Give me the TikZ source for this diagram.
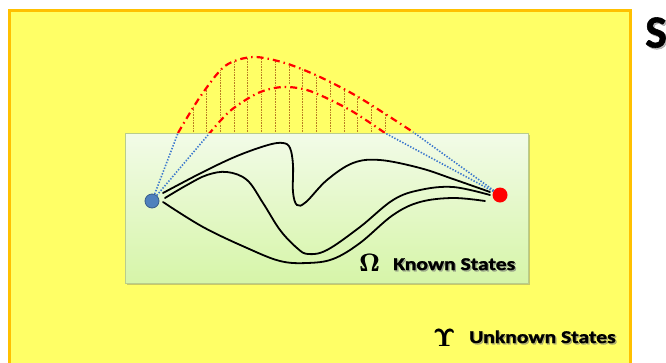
\documentclass[tikz,border=0pt]{standalone}
\usepackage[no-math]{fontspec}
\setmainfont{Carlito}
\newfontfamily\heavyfont{Carlito Bold}[FakeBold=1.2]
\usetikzlibrary{shadows}
\definecolor{yfill}{RGB}{255,255,102}
\definecolor{yborder}{RGB}{255,192,0}
\definecolor{gtop}{RGB}{242,251,232}
\definecolor{gbot}{RGB}{214,245,168}
\definecolor{gborder}{RGB}{185,205,140}
\definecolor{bdot}{RGB}{79,129,189}
\definecolor{bdotb}{RGB}{56,93,138}
\definecolor{bline}{RGB}{60,120,205}
\definecolor{hatch}{RGB}{185,125,35}
\definecolor{rdot}{RGB}{255,0,0}
\tikzset{
  dotnode/.style={circle,inner sep=0pt,minimum size=14pt},
  pathline/.style={line width=1.8pt,black,line cap=round},
  blink/.style={bline,line width=1.6pt,dash pattern=on 1.4pt off 1.6pt},
  redcurve/.style={rdot,line width=2.2pt,dash pattern=on 7pt off 4pt on 1.5pt off 4pt},
  hatchline/.style={hatch,line width=0.8pt,dash pattern=on 1pt off 0.6pt},
  label/.style={font=\heavyfont\fontsize{18}{18}\selectfont,inner sep=0pt,anchor=base west},
  shadowtext/.style={label,text=black!55,opacity=0.55},
}
\begin{document}
\begin{tikzpicture}[x=1pt,y=-1pt]
\useasboundingbox (0,0) rectangle (666,362);
% yellow frame
\fill[white] (0,0) rectangle (666,362);
\draw[yborder,line width=3pt,fill=yfill] (9.5,10.5) rectangle (630,385);
% hatch lines under outer curve
\begin{scope}
\clip plot[smooth] coordinates {(178,133) (200,97) (225,66) (253,57) (285,63) (320,77) (360,98) (413,132)} -- cycle;
\foreach \k in {0,...,14} {
  \draw[hatchline] ({193+13.72*\k},40) -- ({193+13.72*\k},134);
}
\end{scope}
% halo under inner curve
\draw[yfill,line width=4pt] plot[smooth] coordinates {(208,135) (230,111) (258,93) (283,87) (310,91) (350,110) (385,133)};
% red dash-dot curves
\draw[redcurve] plot[smooth] coordinates {(178,133) (200,97) (225,66) (253,57) (285,63) (320,77) (360,98) (413,132)};
\draw[redcurve] plot[smooth] coordinates {(208,135) (230,111) (258,93) (283,87) (310,91) (350,110) (385,133)};
% green box
\node[draw=gborder,line width=0.6pt,top color=gtop,bottom color=gbot,minimum width=403pt,minimum height=150pt,inner sep=0pt,anchor=north west,
  drop shadow={shadow xshift=1.2pt,shadow yshift=-1.5pt,opacity=0.35,fill=black!60}] (box) at (125,133) {};
% dots
\node[dotnode,fill=bdot,draw=bdotb,line width=0.8pt] (b) at (152,201) {};
\node[dotnode,fill=rdot,minimum size=15pt] (r) at (500,195) {};
\coordinate (o1) at (178,133);
\coordinate (i1) at (208,135);
\coordinate (o2) at (413,132);
\coordinate (i2) at (385,133);
% blue dotted links
\draw[blink] (b) -- (o1);
\draw[blink] (b) -- (i1);
\draw[blink] (r) -- (o2);
\draw[blink] (r) -- (i2);
% black paths
\draw[pathline] plot[smooth,tension=0.6] coordinates {(163,193) (203,172) (237,156) (268,145) (283,143) (290,148) (293,165) (293,192) (297,205) (306,202) (327,180) (353,163) (380,160) (420,168) (453,179) (490,192)};
\draw[pathline] plot[smooth,tension=0.6] coordinates {(165,198) (187,185) (207,175) (227,172) (247,180) (263,203) (280,230) (297,248) (308,254) (327,250) (360,227) (393,200) (420,190) (453,187) (490,195)};
\draw[pathline] plot[smooth,tension=0.6] coordinates {(163,202) (203,227) (247,248) (280,261) (307,263) (333,259) (360,243) (393,215) (420,202) (453,198) (485,201)};
% labels
\node[shadowtext] at (394.3,271.4) {\scalebox{1.2}[1]{Known States}};
\node[label] (kt) at (393,270) {\scalebox{1.2}[1]{Known States}};
\node[inner sep=0pt,anchor=base west,font=\fontsize{24}{24}\selectfont] (om) at (359,271) {\rlap{$\mathbf{\Omega}$}\kern0.7pt$\mathbf{\Omega}$};
\node[shadowtext] at (470.3,344.4) {\scalebox{1.2}[1]{Unknown States}};
\node[label] (ut) at (469,343) {\scalebox{1.2}[1]{Unknown States}};
\node[inner sep=0pt,anchor=base west,font=\fontsize{27}{27}\selectfont] (up) at (433,346) {\rlap{$\mathbf{\Upsilon}$}\kern0.7pt$\mathbf{\Upsilon}$};
\node[inner sep=0pt,anchor=base west,text=black!50,opacity=0.5,font=\heavyfont\fontsize{46}{46}\selectfont] at (646.5,49) {S};
\node[inner sep=0pt,anchor=base west,font=\heavyfont\fontsize{46}{46}\selectfont] (s) at (645,47.5) {S};
\end{tikzpicture}
\end{document}
